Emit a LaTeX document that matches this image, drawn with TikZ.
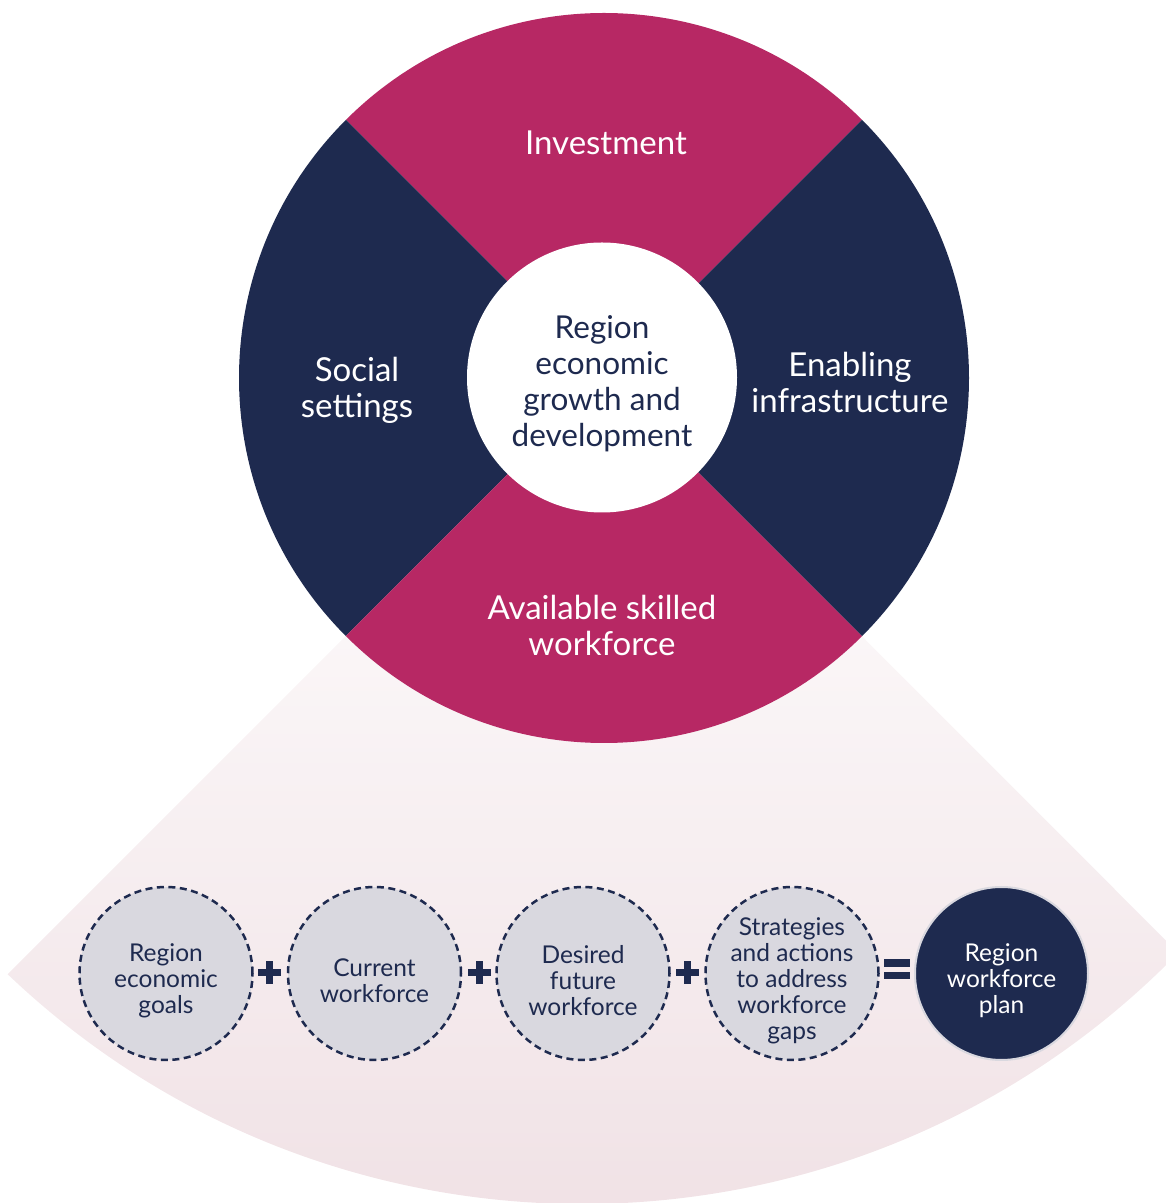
\documentclass[tikz,border=0pt]{standalone}
\usepackage{fontspec}
\setmainfont{Lato}
\definecolor{navy}{HTML}{1E2A4F}
\definecolor{rose}{HTML}{B72864}
\definecolor{ltgray}{HTML}{D9D8DF}
\definecolor{fanpink}{HTML}{EFDFE3}
\begin{document}
\begin{tikzpicture}[x=1pt,y=1pt,
  qlabel/.style={text=white, align=center, font=\fontsize{33}{36}\selectfont},
  smallcirc/.style={circle, draw=navy, line width=2.5pt, dash pattern=on 7pt off 4.5pt,
    fill=ltgray, minimum size=173pt, inner sep=0pt},
  plancirc/.style={circle, draw=ltgray, line width=2pt, fill=navy, minimum size=173pt,
    inner sep=0pt},
  smalltext/.style={text=navy, align=center, inner sep=0pt,
    font=\fontsize{24.5}{26}\selectfont},
  opfill/.style={fill=navy}]
\useasboundingbox (0,0) rectangle (1166,1203);
% fan
\begin{scope}
\clip (0,0) rectangle (1166,1203);
\shade[top color=white, bottom color=fanpink]
  (604,825) -- (7.7,228.7) arc[start angle=226.4, end angle=315.7, radius=833] -- cycle;
\end{scope}
% wheel
\coordinate (C) at (604,825);
\fill[rose] (C) -- ++(45:365) arc[start angle=45, end angle=135, radius=365] -- cycle;
\fill[navy] (C) -- ++(135:365) arc[start angle=135, end angle=225, radius=365] -- cycle;
\fill[rose] (C) -- ++(225:365) arc[start angle=225, end angle=315, radius=365] -- cycle;
\fill[navy] (C) -- ++(-45:365) arc[start angle=-45, end angle=45, radius=365] -- cycle;
\node[circle, fill=white, minimum size=270pt, inner sep=0pt] (core) at (602,825.5) {};
\node[text=navy, align=center, inner sep=0pt, font=\fontsize{31.5}{36}\selectfont]
  (coretext) at ([yshift=-6pt]core.center) {Region\\economic\\growth and\\development};
\node[qlabel] (inv) at (606,1060) {Investment};
\node[qlabel] (soc) at (357,813) {Social\\settings};
\node[qlabel] (inf) at (850,821) {Enabling\\infrastructure};
\node[qlabel] (sk) at (602,578) {Available skilled\\workforce};
% bottom row
\node[smallcirc] (goals) at (166,229.5) {};
\node[smallcirc] (cur) at (374.5,229.5) {};
\node[smallcirc] (fut) at (583,229.5) {};
\node[smallcirc] (strat) at (792,229.5) {};
\node[plancirc] (plan) at (1001.5,229.5) {};
\node[smalltext] (goalst) at ([yshift=-7pt]goals.center) {Region\\economic\\goals};
\node[smalltext] (curt) at ([yshift=-7pt]cur.center) {Current\\workforce};
\node[smalltext] (futt) at ([yshift=-7pt]fut.center) {Desired\\future\\workforce};
\node[smalltext] (stratt) at ([yshift=-7pt]strat.center) {Strategies\\and actions\\to address\\workforce\\gaps};
\node[smalltext, text=white] (plant) at ([yshift=-7pt]plan.center) {Region\\workforce\\plan};
% operators
\foreach \x in {269,479,687}{
  \fill[opfill] (\x-11.5,226.5) rectangle (\x+11.5,233.5);
  \fill[opfill] (\x-3.5,218.5) rectangle (\x+3.5,241.5);
}
\fill[opfill] (884,236) rectangle (910,244);
\fill[opfill] (884,224) rectangle (910,231);
\end{tikzpicture}
\end{document}
